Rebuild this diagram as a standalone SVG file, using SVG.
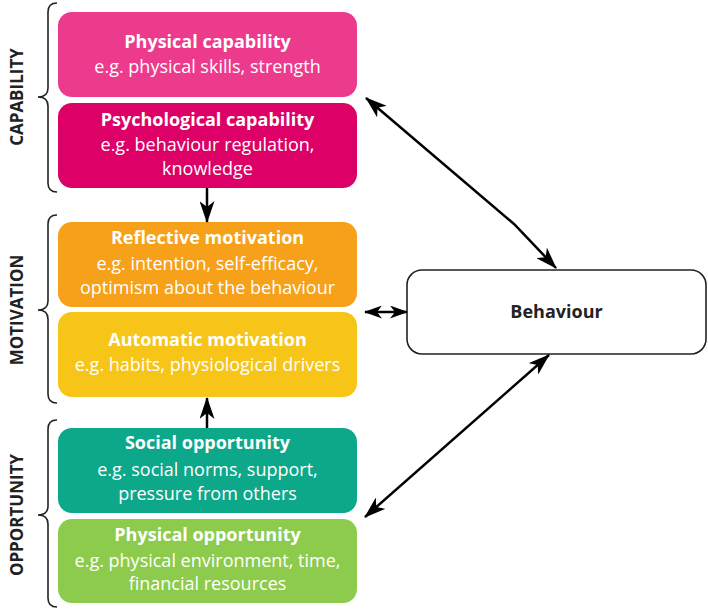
<svg xmlns="http://www.w3.org/2000/svg" width="708" height="611" viewBox="0 0 708 611">
<style>
.box{stroke:none}
.t{font-family:"Open Sans","Liberation Sans",sans-serif;fill:#fff;text-anchor:middle}
.b{font-weight:bold;font-size:18px}
.r{font-size:18px}
.lab{font-family:"Open Sans","Liberation Sans",sans-serif;font-weight:bold;font-size:17px;fill:#222;text-anchor:middle}
.br{fill:none;stroke:#222;stroke-width:1.6}
.c{fill:none;stroke:#000;stroke-width:2.5}
</style>
<defs>
<marker id="ah" viewBox="0 0 22 15" refX="21" refY="7.5" markerWidth="22" markerHeight="15" markerUnits="userSpaceOnUse" orient="auto-start-reverse">
<path d="M0,0 L22,7.5 L0,15 L6,7.5 Z" fill="#000"/>
</marker>
<marker id="ahs" viewBox="0 0 18 13" refX="17" refY="6.5" markerWidth="18" markerHeight="13" markerUnits="userSpaceOnUse" orient="auto-start-reverse">
<path d="M0,0 L18,6.5 L0,13 L5,6.5 Z" fill="#000"/>
</marker>
</defs>
<rect width="708" height="611" fill="#fff"/>
<g id="braces">
<path class="br" d="M57,3 Q48,3 48,12 L48,88 Q48,97 38,97 Q48,97 48,106 L48,183 Q48,192 57,192"/>
<path class="br" d="M57,215 Q48,215 48,224 L48,301 Q48,310 38,310 Q48,310 48,319 L48,394 Q48,403 57,403"/>
<path class="br" d="M57,420 Q48,420 48,429 L48,506 Q48,515 38,515 Q48,515 48,524 L48,598 Q48,607 57,607"/>
</g>
<g id="labels">
<text class="lab" transform="translate(23,97) rotate(-90)">CAPABILITY</text>
<text class="lab" transform="translate(23,310) rotate(-90)">MOTIVATION</text>
<text class="lab" transform="translate(23,515) rotate(-90)">OPPORTUNITY</text>
</g>
<g id="physical-capability">
<rect class="box" x="58" y="12" width="299" height="85" rx="14" fill="#EC3A8D"/>
<text class="t b" x="207.5" y="48">Physical capability</text>
<text class="t r" x="207.5" y="73">e.g. physical skills, strength</text>
</g>
<g id="psychological-capability">
<rect class="box" x="58" y="103" width="299" height="85" rx="14" fill="#DC0067"/>
<text class="t b" x="207.5" y="126">Psychological capability</text>
<text class="t r" x="207.5" y="151">e.g. behaviour regulation,</text>
<text class="t r" x="207.5" y="175">knowledge</text>
</g>
<g id="reflective-motivation">
<rect class="box" x="58" y="222" width="299" height="85" rx="14" fill="#F7A01A"/>
<text class="t b" x="207.5" y="244">Reflective motivation</text>
<text class="t r" x="207.5" y="270">e.g. intention, self-efficacy,</text>
<text class="t r" x="207.5" y="294">optimism about the behaviour</text>
</g>
<g id="automatic-motivation">
<rect class="box" x="58" y="312" width="299" height="85" rx="14" fill="#F7C518"/>
<text class="t b" x="207.5" y="346">Automatic motivation</text>
<text class="t r" x="207.5" y="371">e.g. habits, physiological drivers</text>
</g>
<g id="social-opportunity">
<rect class="box" x="58" y="428" width="299" height="85" rx="14" fill="#0DA789"/>
<text class="t b" x="207.5" y="449">Social opportunity</text>
<text class="t r" x="207.5" y="476">e.g. social norms, support,</text>
<text class="t r" x="207.5" y="500">pressure from others</text>
</g>
<g id="physical-opportunity">
<rect class="box" x="58" y="519" width="299" height="84" rx="14" fill="#8DCB4C"/>
<text class="t b" x="207.5" y="541">Physical opportunity</text>
<text class="t r" x="207.5" y="567">e.g. physical environment, time,</text>
<text class="t r" x="207.5" y="590">financial resources</text>
</g>
<g id="behaviour">
<rect x="407" y="270" width="299" height="84" rx="15" fill="#fff" stroke="#222" stroke-width="1.6"/>
<text class="lab" style="font-size:18px" x="556.5" y="318">Behaviour</text>
</g>
<g id="connectors">
<line class="c" x1="207" y1="188" x2="207" y2="222" marker-end="url(#ah)"/>
<line class="c" x1="207" y1="428" x2="207" y2="398" marker-end="url(#ah)"/>
<line class="c" x1="365" y1="312" x2="407" y2="312" marker-start="url(#ahs)" marker-end="url(#ahs)"/>
<polyline class="c" points="366,98 514,224 556,268" marker-start="url(#ah)" marker-end="url(#ah)"/>
<line class="c" x1="365" y1="517" x2="549" y2="355" marker-start="url(#ah)" marker-end="url(#ah)"/>
</g>
</svg>
